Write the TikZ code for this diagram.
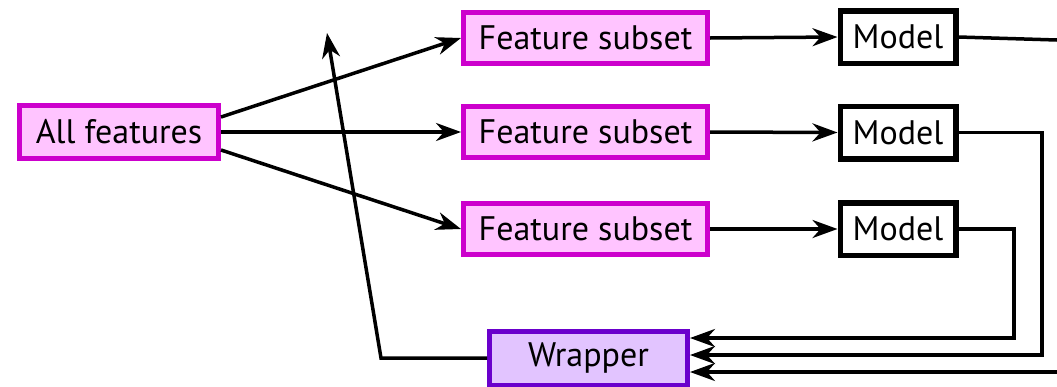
\documentclass[tikz,border=0pt]{standalone}
\usepackage{fontspec}
\setmainfont{PT Sans}
\usetikzlibrary{arrows.meta}
\definecolor{pinkfill}{HTML}{FFC4FF}
\definecolor{pinkline}{HTML}{CC00CC}
\definecolor{wrapfill}{HTML}{E2C4FF}
\definecolor{wrapline}{HTML}{6A00CC}
\begin{document}
\begin{tikzpicture}[x=1pt,y=-1pt,
  font=\fontsize{34}{38}\selectfont,
  feat/.style={draw=pinkline,fill=pinkfill,line width=5pt,inner sep=0pt},
  modelbox/.style={draw=black,fill=white,line width=5.5pt,inner sep=0pt,minimum width=115.5pt,minimum height=52.5pt},
  wrapbox/.style={draw=wrapline,fill=wrapfill,line width=5pt,inner sep=0pt,minimum width=198pt,minimum height=54pt},
  conn/.style={line width=3.5pt,-{Stealth[length=25pt,width=18pt,inset=8pt]}},
  plain/.style={line width=3.5pt}]
\useasboundingbox (0,0) rectangle (1057,386);
\node[feat,minimum width=199pt,minimum height=53pt] (all) at (119,132) {All features};
\node[feat,minimum width=244pt,minimum height=51pt] (fs1) at (585.5,38) {Feature subset};
\node[feat,minimum width=244pt,minimum height=51pt] (fs2) at (585.5,132) {Feature subset};
\node[feat,minimum width=244pt,minimum height=51pt] (fs3) at (585.5,229) {Feature subset};
\node[modelbox] (m1) at (898,37) {Model};
\node[modelbox] (m2) at (898,132.5) {Model};
\node[modelbox] (m3) at (898,229) {Model};
\node[wrapbox] (wr) at (588.5,358) {Wrapper};
\coordinate (tip) at (327,33);
\coordinate (e1) at (1057,40);
\coordinate (e3) at (1060,372);
\draw[conn] ([yshift=15pt]all.east) -- (fs1.west);
\draw[conn] (all.east) -- (fs2.west);
\draw[conn] ([yshift=-18pt]all.east) -- (fs3.west);
\draw[conn] (fs1.east) -- (m1.west);
\draw[conn] (fs2.east) -- (m2.west);
\draw[conn] (fs3.east) -- (m3.west);
\draw[plain] (m1.east) -- (e1);
\draw[conn] (m3.east) -- (1014,229) -- (1014,338) -- (wr.east |- 0,338);
\draw[conn] (m2.east) -- (1042,132.5) -- (1042,355) -- (wr.east |- 0,355);
\draw[conn] (e3) -- (wr.east |- 0,372);
\draw[conn] (wr.west) -- (381,358) -- (tip);
\end{tikzpicture}
\end{document}
